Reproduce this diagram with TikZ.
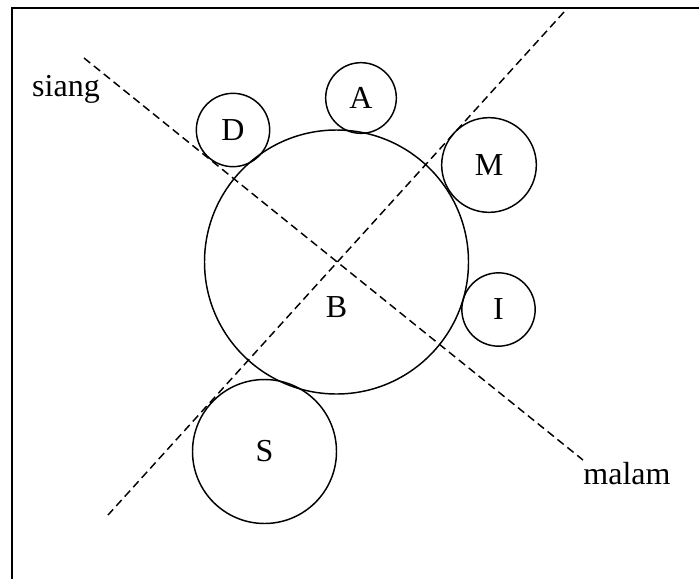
\documentclass[tikz,border=0pt]{standalone}
\usepackage{fontspec}
\setmainfont{Liberation Serif}
\usetikzlibrary{positioning}

\begin{document}
\begin{tikzpicture}[
x=0.75pt, y=-0.75pt,
every node/.style={font=\fontsize{24}{28}\selectfont},
planet/.style={circle, draw=black, line width=1.1pt, inner sep=0pt},
divide/.style={dashed, line width=1.1pt, dash pattern=on 6pt off 3.5pt}
]
\useasboundingbox (0,0) rectangle (699,578);
\clip (0,0) rectangle (699,578);
\draw[line width=1.3pt] (12,8) rectangle (720,600);

% circles
\node[planet, minimum size=198pt] (B) at (336.5,262) {};
\node[planet, minimum size=53pt] (A) at (361,98) {A};
\node[planet, minimum size=55pt] (D) at (233,130) {D};
\node[planet, minimum size=71pt] (M) at (489,165) {M};
\node[planet, minimum size=55pt] (I) at (498.5,309.5) {I};
\node[planet, minimum size=108pt] (S) at (264.5,451.5) {S};
\node[below=22pt of B.center] (Blabel) {B};

% day / night lines
\coordinate (sia) at (84,58);
\coordinate (mal) at (583,460);
\coordinate (top) at (564,12);
\coordinate (bot) at (108,515);
\draw[divide] (sia) -- (mal);
\draw[divide] (top) -- (bot);

\node (siang) at (66,89) {siang};
\node (malam) at (627,474) {malam};
\end{tikzpicture}
\end{document}
